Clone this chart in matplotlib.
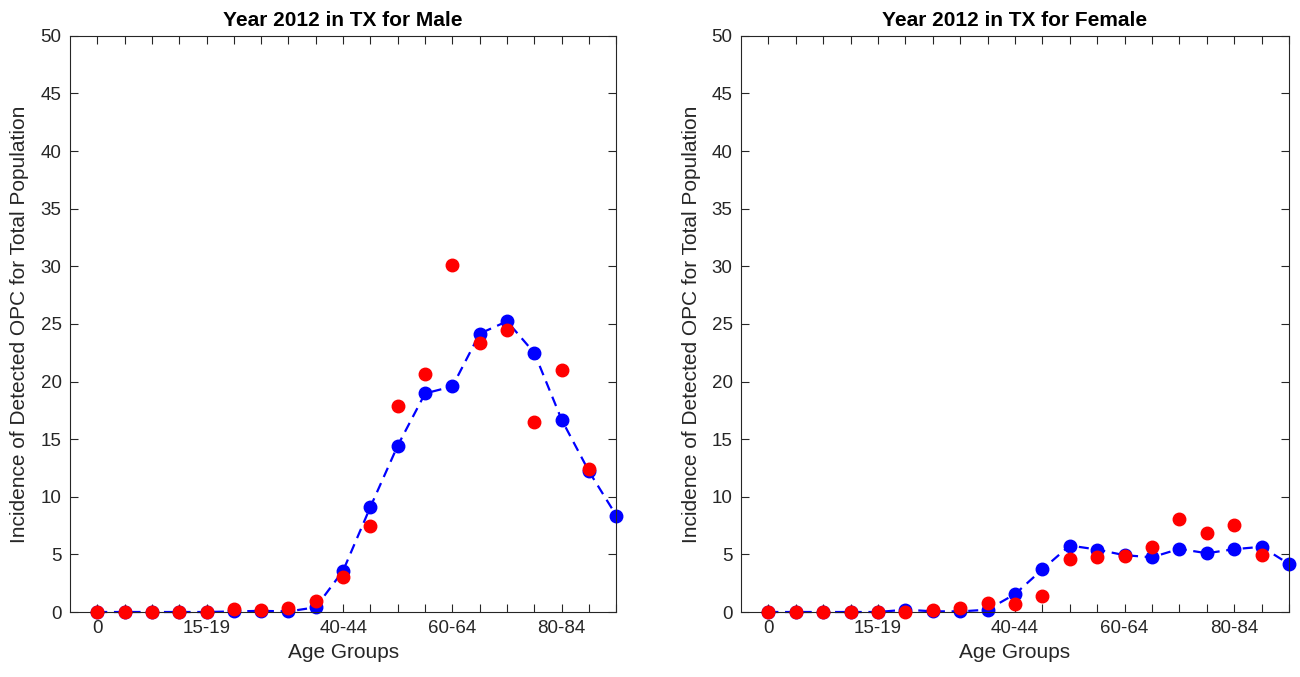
import matplotlib
matplotlib.use("Agg")
import matplotlib.pyplot as plt
import numpy as np

age_index = list(range(20))
tick_positions = [0, 4, 9, 13, 17]
tick_labels = ["0", "15-19", "40-44", "60-64", "80-84"]

male_model = [0, 0, 0, 0, 0, 0.05, 0.1, 0.05, 0.41, 3.59, 9.13, 14.45, 18.97, 19.58,
              24.16, 25.23, 22.48, 16.68, 12.2, 8.37]
male_observed = [0, 0, 0, 0, 0, 0.29, 0.17, 0.38, 0.99, 3.06, 7.49, 17.84, 20.62, 30.1,
                 23.35, 24.45, 16.48, 21.03, 12.4, np.nan]

female_model = [0, 0, 0, 0, 0, 0.2, 0.06, 0.05, 0.2, 1.55, 3.7, 5.77, 5.42, 4.93,
                4.75, 5.48, 5.1, 5.45, 5.66, 4.17]
female_observed = [0, 0, 0, 0, 0, 0.0, 0.17, 0.35, 0.82, 0.67, 1.43, 4.58, 4.75, 4.9,
                   5.6, 8.08, 6.85, 7.58, 4.99, np.nan]

titles = ["Year 2012 in TX for Male", "Year 2012 in TX for Female"]
ylabel = "Incidence of Detected OPC for Total Population"
xlabel = "Age Groups"

TXT = "#262626"
plt.rcParams["font.family"] = ["Liberation Sans", "DejaVu Sans"]

fig = plt.figure(figsize=(13, 6.77), dpi=100)
positions = [[0.0538, 0.096, 0.4203, 0.851], [0.5700, 0.096, 0.4215, 0.851]]
datasets = [(male_model, male_observed), (female_model, female_observed)]

for pos, (model, obs), title in zip(positions, datasets, titles):
    ax = fig.add_axes(pos)
    ax.plot(age_index, model, linestyle=(0, (4.5, 3)), color=(0, 0, 1), linewidth=1.6,
            marker="o", markersize=9, markerfacecolor=(0, 0, 1),
            markeredgecolor=(0, 0, 1), zorder=2, clip_on=False)
    ax.plot(age_index, obs, linestyle="none", marker="o", markersize=9,
            markerfacecolor=(1, 0, 0), markeredgecolor=(1, 0, 0), zorder=3,
            clip_on=False)
    ax.set_xlim(-1, 19)
    ax.set_ylim(0, 50)
    ax.set_yticks(np.arange(0, 51, 5))
    ax.set_xticks(age_index)
    ax.set_xticklabels([tick_labels[tick_positions.index(i)] if i in tick_positions else ""
                        for i in age_index])
    ax.tick_params(axis="both", direction="in", length=5.5, width=0.8, colors=TXT,
                   labelsize=13.5, top=True, right=True, pad=6)
    for s in ax.spines.values():
        s.set_color(TXT)
        s.set_linewidth(0.8)
    ax.set_title(title, fontsize=15, fontweight="bold", color="black", pad=7)
    ax.set_xlabel(xlabel, fontsize=15, color=TXT, labelpad=4)
    ax.set_ylabel(ylabel, fontsize=15, color=TXT, labelpad=8)

fig.savefig("out.png", dpi=100)
